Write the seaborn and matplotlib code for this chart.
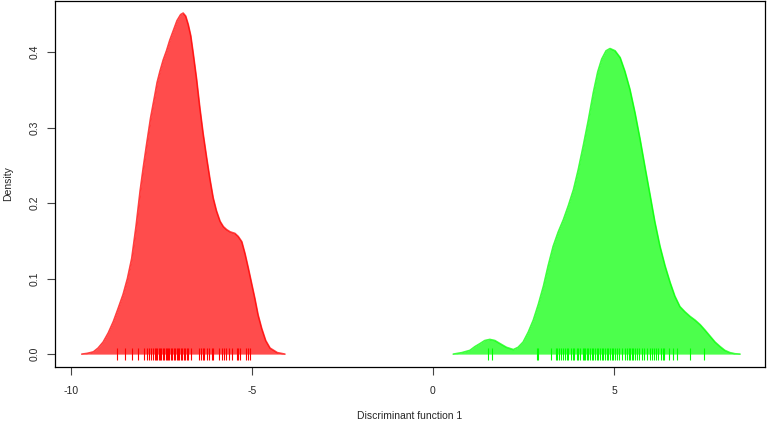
import numpy as np
import pandas as pd
import matplotlib
matplotlib.use("Agg")
import matplotlib.pyplot as plt
import seaborn as sns

# --- Density curves (x, density) ---
RED_X = [-9.70, -9.55, -9.38, -9.25, -9.11, -8.97, -8.83, -8.70, -8.56, -8.44,
         -8.32, -8.20, -8.09, -8.00, -7.91, -7.80, -7.68, -7.62, -7.54, -7.45,
         -7.36, -7.27, -7.17, -7.07, -6.97, -6.90, -6.83, -6.76, -6.69, -6.62,
         -6.53, -6.44, -6.35, -6.25, -6.16, -6.07, -5.98, -5.88, -5.79, -5.70,
         -5.60, -5.47, -5.38, -5.28, -5.19, -5.10, -5.01, -4.92, -4.83, -4.73,
         -4.62, -4.50, -4.30, -4.09]
RED_Y = [0.000, 0.001, 0.003, 0.008, 0.016, 0.028, 0.043, 0.060, 0.079, 0.100,
         0.127, 0.170, 0.216, 0.248, 0.278, 0.313, 0.344, 0.360, 0.375, 0.390,
         0.402, 0.416, 0.429, 0.442, 0.450, 0.452, 0.448, 0.437, 0.422, 0.398,
         0.365, 0.327, 0.293, 0.260, 0.232, 0.207, 0.190, 0.176, 0.169, 0.165,
         0.162, 0.160, 0.156, 0.149, 0.133, 0.114, 0.094, 0.074, 0.052, 0.034,
         0.018, 0.008, 0.002, 0.000]

GREEN_X = [0.56, 0.80, 1.02, 1.16, 1.30, 1.43, 1.57, 1.71, 1.85, 2.03,
           2.22, 2.35, 2.49, 2.63, 2.77, 2.91, 3.05, 3.18, 3.32, 3.46,
           3.60, 3.74, 3.88, 4.01, 4.15, 4.29, 4.43, 4.55, 4.66, 4.78,
           4.89, 5.03, 5.17, 5.30, 5.44, 5.58, 5.72, 5.86, 6.00, 6.13,
           6.27, 6.41, 6.55, 6.68, 6.82, 6.96, 7.10, 7.24, 7.38, 7.51,
           7.65, 7.79, 7.93, 8.06, 8.20, 8.34, 8.48]
GREEN_Y = [0.000, 0.002, 0.005, 0.010, 0.014, 0.018, 0.0195, 0.018, 0.014, 0.009,
           0.006, 0.009, 0.016, 0.029, 0.045, 0.066, 0.090, 0.117, 0.143, 0.162,
           0.178, 0.197, 0.218, 0.244, 0.276, 0.310, 0.347, 0.374, 0.391, 0.402,
           0.405, 0.402, 0.393, 0.375, 0.351, 0.320, 0.285, 0.247, 0.210, 0.175,
           0.143, 0.117, 0.095, 0.077, 0.063, 0.056, 0.050, 0.045, 0.039, 0.032,
           0.024, 0.016, 0.010, 0.005, 0.002, 0.0005, 0.000]

# --- Individual scores (rug) ---
RED_RUG = [-8.74, -8.51, -8.32, -8.14, -7.98, -7.91, -7.85, -7.80, -7.74, -7.68,
           -7.65, -7.62, -7.57, -7.54, -7.51, -7.47, -7.42, -7.38, -7.36, -7.32,
           -7.28, -7.24, -7.20, -7.15, -7.12, -7.08, -7.04, -7.01, -6.96, -6.93,
           -6.89, -6.85, -6.80, -6.76, -6.69, -6.46, -6.41, -6.36, -6.33, -6.25,
           -6.20, -6.11, -6.07, -5.90, -5.84, -5.77, -5.72, -5.63, -5.56, -5.42,
           -5.38, -5.33, -5.17, -5.12, -5.06]
GREEN_RUG = [1.53, 1.64, 2.86, 2.91, 3.25, 3.40, 3.43, 3.49, 3.54, 3.58,
             3.65, 3.69, 3.74, 3.80, 3.86, 3.90, 3.97, 4.01, 4.06, 4.14,
             4.17, 4.21, 4.25, 4.29, 4.34, 4.38, 4.43, 4.48, 4.52, 4.56,
             4.61, 4.66, 4.70, 4.75, 4.80, 4.84, 4.89, 4.94, 4.98, 5.03,
             5.07, 5.14, 5.21, 5.30, 5.35, 5.40, 5.44, 5.49, 5.53, 5.58,
             5.63, 5.70, 5.77, 5.83, 5.90, 5.98, 6.04, 6.10, 6.16, 6.22,
             6.29, 6.35, 6.38, 6.53, 6.64, 6.75, 7.10, 7.49]

X_TICKS = [-10, -5, 0, 5]
Y_TICKS = [0.0, 0.1, 0.2, 0.3, 0.4]

sns.set_style("ticks")
plt.rcParams['font.family'] = ['Liberation Sans', 'DejaVu Sans']

fig = plt.figure(figsize=(7.67, 4.23), dpi=100)
ax = fig.add_axes([55 / 767, 1 - 366.5 / 423, 710 / 767, 365.5 / 423])

groups = [(RED_X, RED_Y, RED_RUG, "#FF0000"), (GREEN_X, GREEN_Y, GREEN_RUG, "#00FF00")]
for xs, ys, rug, col in groups:
    curve = pd.DataFrame({"x": xs, "density": ys})
    ax.fill_between(curve["x"], curve["density"], color=col, alpha=0.7, linewidth=0)
    sns.lineplot(data=curve, x="x", y="density", color=col, alpha=0.75,
                 linewidth=1.2, ax=ax, sort=False)
    rug_df = pd.DataFrame({"x": rug, "y": np.zeros(len(rug))})
    sns.scatterplot(data=rug_df, x="x", y="y", marker="|", s=75, color=col,
                    edgecolor=col, linewidth=0.8, ax=ax)

ax.set_xlim(-10.44, 9.17)
ax.set_ylim(-0.0164, 0.468)
ax.set_xticks(X_TICKS)
ax.set_xticklabels([str(t) for t in X_TICKS])
ax.set_yticks(Y_TICKS)
ax.set_yticklabels([f"{t:.1f}" for t in Y_TICKS], rotation=90, va="center")

ax.tick_params(axis="x", length=6, width=0.8, pad=8, labelsize=7.5, color="#444444")
ax.tick_params(axis="y", length=6, width=0.8, pad=5, labelsize=7.5, color="#444444")
for sp in ax.spines.values():
    sp.set_linewidth(0.9)
    sp.set_color("black")

ax.set_xlabel("Discriminant function 1", fontsize=7.5, labelpad=11)
ax.set_ylabel("Density", fontsize=7.5, labelpad=12)

plt.savefig("out.png", dpi=100)
plt.close()
